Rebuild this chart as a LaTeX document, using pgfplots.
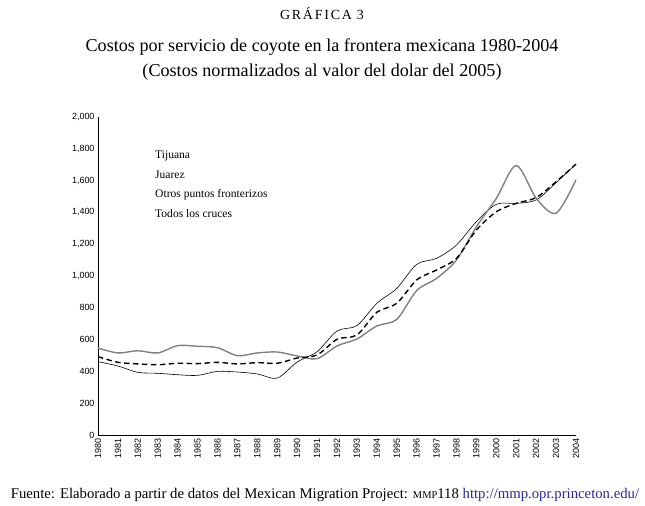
\documentclass[border=0pt]{standalone}
\usepackage{pgfplots}
\pgfplotsset{compat=1.18}
\usepackage{fontspec}
\setmainfont{Liberation Serif}
\newfontfamily\ticksf{Liberation Sans}
\definecolor{linegray}{RGB}{128,128,128}
\definecolor{urlblue}{RGB}{40,40,150}
\pgfplotstableread{
year tij jua tod
1980 461 547 493
1981 434 516 457
1982 394 530 447
1983 388 516 442
1984 379 562 451
1985 375 558 449
1986 400 549 457
1987 396 499 447
1988 384 516 455
1989 358 522 451
1990 459 497 484
1991 524 480 503
1992 654 560 602
1993 688 604 629
1994 828 686 772
1995 922 727 828
1996 1073 908 975
1997 1111 985 1038
1998 1195 1101 1111
1999 1342 1310 1289
2000 1451 1488 1404
2001 1457 1695 1457
2002 1478 1489 1493
2003 1587 1395 1593
2004 1704 1605 1704
}\datatable
\begin{document}
\begin{tikzpicture}[x=1bp,y=1bp]
\path[use as bounding box] (0,0) rectangle (645,506);
\begin{axis}[
  at={(98bp,71bp)}, anchor=south west,
  scale only axis, width=478bp, height=318bp,
  xmin=1980, xmax=2004, ymin=0, ymax=2000,
  axis lines=left,
  axis line style={-, line width=0.9pt},
  xtick={1980,...,2004},
  ytick={0,200,...,2000},
  major tick length=0pt,
  /pgf/number format/assume math mode=true,
  x tick label style={rotate=90, anchor=east, font=\ticksf\fontsize{9}{9}\selectfont, /pgf/number format/set thousands separator={}},
  y tick label style={font=\ticksf\fontsize{9}{9}\selectfont, /pgf/number format/set thousands separator={,}},
  clip=false,
]
\addplot[black, line width=0.6pt, smooth, tension=0.5] table[x=year,y=tij] {\datatable};
\addplot[linegray, line width=1.4pt, smooth, tension=0.5] table[x=year,y=jua] {\datatable};
\addplot[black, line width=1.4pt, dash pattern=on 5.5pt off 3.5pt, smooth, tension=0.5] table[x=year,y=tod] {\datatable};
\end{axis}
\begin{scope}[every node/.style={anchor=west, inner sep=0pt, font=\fontsize{11.6}{12}\selectfont}]
\node at (155,350) {Tijuana};
\node at (155,331) {Juarez};
\node at (155,311) {Otros puntos fronterizos};
\node at (155,292) {Todos los cruces};
\end{scope}
\node[font=\fontsize{14}{15}\selectfont] at (322,492) {G\kern1.8pt R\kern1.8pt Á\kern1.8pt F\kern1.8pt I\kern1.8pt C\kern1.8pt A\kern5pt 3};
\node[font=\fontsize{18.2}{20}\selectfont] at (322,459) {Costos por servicio de coyote en la frontera mexicana 1980-2004};
\node[font=\fontsize{18.2}{20}\selectfont] at (322,434) {(Costos normalizados al valor del dolar del 2005)};
\node[font=\fontsize{14.8}{16}\selectfont] at (325,11) {Fuente: Elaborado a partir de datos del Mexican Migration Project: {\fontsize{10.5}{11}\selectfont MMP}118 \textcolor{urlblue}{http://mmp.opr.princeton.edu/}};
\end{tikzpicture}
\end{document}
